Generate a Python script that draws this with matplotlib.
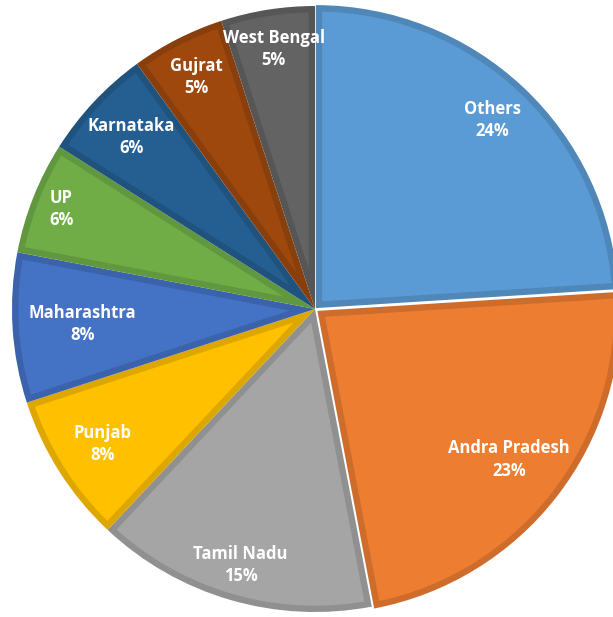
import matplotlib
matplotlib.use("Agg")
import matplotlib.pyplot as plt
import matplotlib.colors as mcolors
from matplotlib.patches import Polygon
import numpy as np

states = ['Others', 'Andra Pradesh', 'Tamil Nadu', 'Punjab', 'Maharashtra',
          'UP', 'Karnataka', 'Gujrat', 'West Bengal']
shares = [24, 23, 15, 8, 8, 6, 6, 5, 5]
colors = ['#5B9BD5', '#ED7D31', '#A5A5A5', '#FFC000', '#4472C4',
          '#70AD47', '#255E91', '#9E480E', '#636363']
explode = [0.004, 0.01, 0, 0, 0, 0, 0, 0, 0]
# how far out each label sits (fraction of radius)
label_r = [0.85, 0.80, 0.88, 0.83, 0.77, 0.90, 0.83, 0.86, 0.87]

fig = plt.figure(figsize=(6.13, 6.17), dpi=100)
ax = fig.add_axes([0, 0, 1, 1])

# base wedges drawn in the darker border shade
dark = [tuple(np.array(mcolors.to_rgb(c)) * 0.87) for c in colors]
wedges, _ = ax.pie(shares, colors=dark, startangle=90, counterclock=False,
                   explode=explode, radius=1.0,
                   wedgeprops=dict(linewidth=0))

# inset face on top, leaving a band of the darker colour around each slice
d = 0.021
for w, c in zip(wedges, colors):
    cx, cy = w.center
    R = w.r
    t1, t2 = np.deg2rad(w.theta1), np.deg2rad(w.theta2)
    half = (t2 - t1) / 2
    mid = t1 + half
    apex_r = d / np.sin(half)
    da = np.arcsin(d / (R - d))
    arc = np.linspace(t1 + da, t2 - da, 100)
    pts = [(cx + apex_r * np.cos(mid), cy + apex_r * np.sin(mid))]
    pts += [(cx + (R - d) * np.cos(a), cy + (R - d) * np.sin(a)) for a in arc]
    ax.add_patch(Polygon(pts, closed=True, facecolor=c, edgecolor='none'))

# labels with name and percent
for w, name, val, lr in zip(wedges, states, shares, label_r):
    ang = np.deg2rad((w.theta1 + w.theta2) / 2)
    cx, cy = w.center
    ax.text(cx + lr * np.cos(ang), cy + lr * np.sin(ang), f'{name}\n{val}%',
            ha='center', va='center', color='white', fontsize=12,
            fontweight='bold', family='Open Sans', linespacing=1.3)

ax.set_aspect('auto')
ax.set_xlim(-315 / 303, (613 - 315) / 303)
ax.set_ylim(-308 / 303, (617 - 308) / 303)
ax.axis('off')

plt.savefig('out.png', dpi=100)
